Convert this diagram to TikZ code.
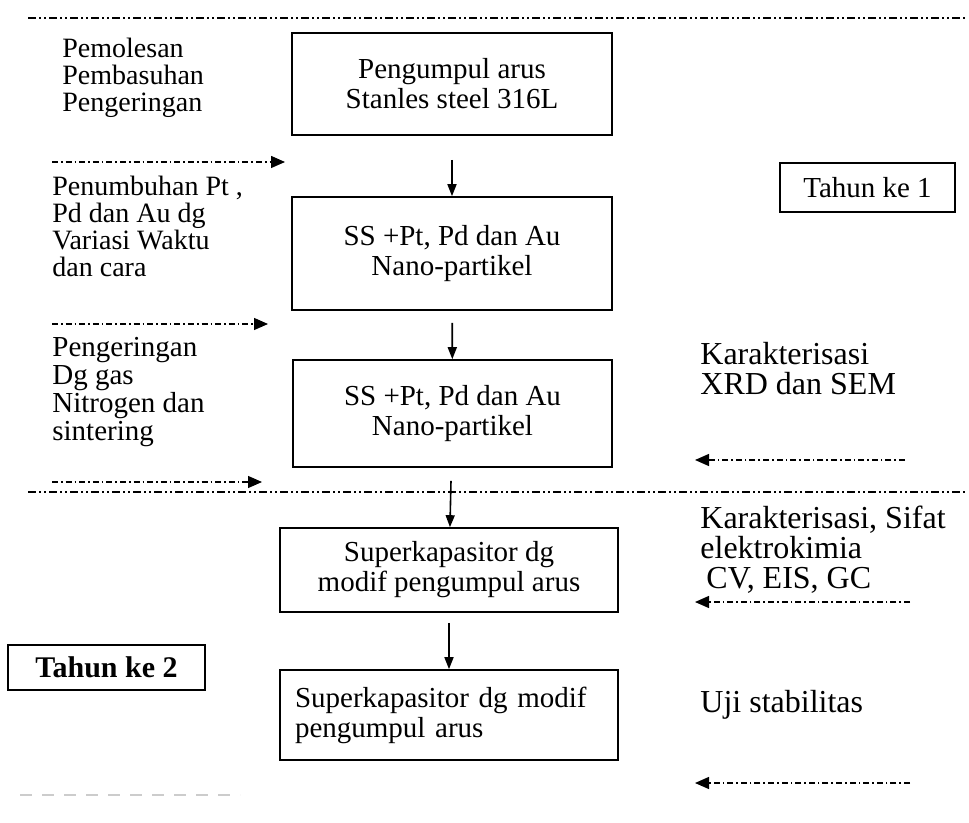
\documentclass[tikz,border=0pt]{standalone}
\usepackage{fontspec}
\setmainfont{Liberation Serif}
\usetikzlibrary{arrows.meta}

\tikzset{
  kotak/.style={draw, line width=0.8pt, inner sep=0pt, align=center,
    font=\fontsize{14.5}{15}\selectfont},
  ket/.style={anchor=west, inner sep=0pt, align=left,
    font=\fontsize{14}{13.5}\selectfont},
  ketkanan/.style={anchor=west, inner sep=0pt, align=left,
    font=\fontsize{16}{15}\selectfont},
  proses/.style={line width=0.7pt,
    dash pattern=on 3pt off 1.5pt on 0.8pt off 1.5pt,
    -{Triangle[length=7pt,width=6pt]}},
  panah/.style={line width=0.8pt, -{Triangle[length=6pt,width=4.5pt]}},
  batas/.style={line width=0.8pt,
    dash pattern=on 4pt off 1.5pt on 1pt off 1.5pt on 1pt off 1.5pt},
}

\begin{document}
\begin{tikzpicture}[x=0.5pt, y=-0.5pt]
  \useasboundingbox (0,0) rectangle (969,823);

  % batas tahun
  \coordinate (ga) at (28,18);
  \coordinate (gb) at (965,18);
  \coordinate (gc) at (28,492);
  \coordinate (gd) at (965,492);
  \draw[batas] (ga) -- (gb);
  \draw[batas] (gc) -- (gd);

  % kotak utama
  \node[kotak, minimum width=160pt, minimum height=51pt] (b1) at (452,84)
    {Pengumpul arus\\Stanles steel 316L};
  \node[kotak, minimum width=160pt, minimum height=56.5pt] (b2) at (452,253.5)
    {SS +Pt, Pd dan Au\\Nano-partikel};
  \node[kotak, minimum width=159.5pt, minimum height=53.5pt] (b3) at (452.5,413.5)
    {SS +Pt, Pd dan Au\\Nano-partikel};
  \node[kotak, minimum width=169pt, minimum height=42pt] (b4) at (449,570)
    {Superkapasitor dg\\modif pengumpul arus};
  \node[kotak, align=left, text width=154pt, inner xsep=7.5pt,
    minimum height=45pt] (b5) at (449,715)
    {Superkapasitor dg modif\\pengumpul arus};

  \draw[panah, shorten <=12pt] (b1) -- (b2);
  \draw[panah, shorten <=6pt] (b2) -- (b3);
  \draw[panah, shorten <=6.5pt] (b3) -- (b4);
  \draw[panah, shorten <=5pt] (b4) -- (b5);

  % tahun
  \node[kotak, minimum width=87.5pt, minimum height=24.5pt] (t1) at (867.5,187.5)
    {Tahun ke 1};
  \node[kotak, minimum width=98.5pt, minimum height=22.5pt,
    font=\fontsize{15}{15}\selectfont\bfseries] (t2) at (106.5,667.5)
    {Tahun ke 2};

  % proses kiri
  \node[ket] (k1) at (62,78) {Pemolesan\\Pembasuhan\\Pengeringan};
  \node[ket] (k2) at (52,226) {Penumbuhan Pt ,\\Pd dan Au dg\\Variasi Waktu\\dan cara};
  \node[ket, font=\fontsize{14.5}{14}\selectfont] (k3) at (52,392)
    {Pengeringan\\Dg gas\\Nitrogen dan\\sintering};
  \coordinate (p1a) at (52,162);
  \coordinate (p1b) at (285,162);
  \coordinate (p2a) at (52,324);
  \coordinate (p2b) at (268,324);
  \coordinate (p3a) at (52,482);
  \coordinate (p3b) at (262,482);
  \draw[proses] (p1a) -- (p1b);
  \draw[proses] (p2a) -- (p2b);
  \draw[proses] (p3a) -- (p3b);

  % karakterisasi kanan
  \node[ketkanan] (r1) at (700,369) {Karakterisasi\\XRD dan SEM};
  \node[ketkanan] (r2) at (700,550)
    {Karakterisasi, Sifat\\elektrokimia\\\hspace{3pt}CV, EIS, GC};
  \node[ketkanan] (r3) at (700,705) {Uji stabilitas};
  \coordinate (q1a) at (905,460);
  \coordinate (q1b) at (695,460);
  \coordinate (q2a) at (910,602);
  \coordinate (q2b) at (695,602);
  \coordinate (q3a) at (910,783);
  \coordinate (q3b) at (695,783);
  \draw[proses] (q1a) -- (q1b);
  \draw[proses] (q2a) -- (q2b);
  \draw[proses] (q3a) -- (q3b);

  % sisa garis samar
  \coordinate (sa) at (20,795);
  \coordinate (sb) at (240,795);
  \draw[gray!40, line width=1pt, dash pattern=on 6pt off 5pt] (sa) -- (sb);
\end{tikzpicture}
\end{document}
